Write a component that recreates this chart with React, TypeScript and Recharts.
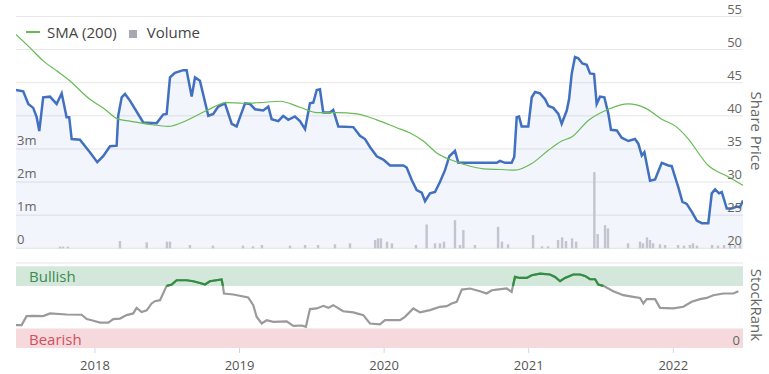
import React from "react";
import { ComposedChart, Area, Line, Bar, XAxis, YAxis, CartesianGrid, ReferenceArea, ReferenceLine } from "recharts";

// time axis is in decimal years
const START = 2017.454;
const END = 2022.482;
const yearTicks = [2018, 2019, 2020, 2021, 2022];
const priceTicks = [20, 25, 30, 35, 40, 45, 50, 55];
const volumeTicks = [0, 1, 2, 3];

const priceDates = [
  2017.454, 2017.504, 2017.539, 2017.573, 2017.597, 2017.615, 2017.642, 2017.689, 2017.735, 2017.77,
  2017.804, 2017.822, 2017.839, 2017.896, 2017.965, 2018.016, 2018.057, 2018.104, 2018.15, 2018.161,
  2018.185, 2018.208, 2018.242, 2018.334, 2018.427, 2018.472, 2018.496, 2018.519, 2018.553, 2018.611,
  2018.634, 2018.669, 2018.692, 2018.726, 2018.784, 2018.818, 2018.853, 2018.899, 2018.946, 2018.98,
  2019.003, 2019.038, 2019.072, 2019.107, 2019.164, 2019.199, 2019.222, 2019.268, 2019.302, 2019.337,
  2019.383, 2019.418, 2019.453, 2019.487, 2019.51, 2019.534, 2019.556, 2019.579, 2019.626, 2019.648,
  2019.683, 2019.787, 2019.833, 2019.868, 2019.902, 2019.949, 2019.994, 2020.041, 2020.133, 2020.156,
  2020.191, 2020.225, 2020.26, 2020.283, 2020.317, 2020.352, 2020.386, 2020.421, 2020.451, 2020.49,
  2020.513, 2020.686, 2020.779, 2020.801, 2020.836, 2020.882, 2020.9, 2020.917, 2020.933, 2020.951,
  2020.997, 2021.021, 2021.044, 2021.078, 2021.113, 2021.136, 2021.17, 2021.205, 2021.228, 2021.263,
  2021.279, 2021.297, 2021.32, 2021.343, 2021.371, 2021.401, 2021.424, 2021.452, 2021.47, 2021.493,
  2021.523, 2021.551, 2021.569, 2021.609, 2021.643, 2021.689, 2021.735, 2021.758, 2021.782, 2021.8,
  2021.839, 2021.874, 2021.92, 2021.966, 2021.989, 2022.012, 2022.035, 2022.063, 2022.093, 2022.128,
  2022.162, 2022.197, 2022.242, 2022.266, 2022.289, 2022.316, 2022.335, 2022.37, 2022.404, 2022.439,
  2022.461, 2022.482,
];
const priceValues = [
  43.9, 43.7, 41.8, 41.2, 39.8, 37.7, 42.8, 42.9, 41.8, 43.4,
  39.8, 39.8, 36.5, 36.4, 34.5, 33.0, 33.9, 35.4, 35.5, 40.0,
  42.8, 43.3, 42.3, 39.0, 38.9, 40.2, 40.3, 45.8, 46.5, 46.9,
  46.9, 42.9, 45.8, 45.3, 40.0, 40.3, 41.4, 41.9, 38.8, 38.4,
  39.8, 41.9, 41.8, 41.0, 40.8, 41.4, 39.5, 39.2, 40.0, 39.4,
  39.9, 39.2, 38.0, 41.9, 42.0, 43.9, 44.0, 40.5, 40.5, 40.9,
  38.4, 38.3, 37.0, 36.5, 35.3, 33.9, 33.4, 32.5, 32.5, 32.2,
  30.3, 28.8, 28.4, 27.1, 28.3, 28.5, 30.0, 31.8, 33.9, 34.7,
  32.9, 32.9, 32.9, 33.2, 32.9, 32.9, 33.8, 39.8, 39.9, 38.4,
  38.4, 42.8, 43.6, 43.4, 42.5, 41.5, 41.2, 40.3, 38.8, 40.8,
  42.5, 46.3, 48.9, 48.7, 47.9, 47.7, 46.4, 46.3, 41.8, 42.9,
  42.8, 40.3, 37.9, 37.8, 36.7, 36.2, 36.5, 35.8, 34.0, 34.5,
  30.2, 30.4, 32.9, 32.5, 32.4, 30.8, 29.2, 27.0, 26.7, 25.5,
  24.2, 23.8, 23.8, 28.3, 28.9, 28.3, 28.5, 26.0, 26.0, 26.3,
  26.2, 27.2,
];

const smaDates = [
  2017.454, 2017.55, 2017.642, 2017.735, 2017.815, 2017.965, 2018.057, 2018.161, 2018.242, 2018.38,
  2018.507, 2018.634, 2018.773, 2018.911, 2019.026, 2019.141, 2019.28, 2019.418, 2019.534, 2019.672,
  2019.81, 2019.949, 2020.087, 2020.179, 2020.271, 2020.364, 2020.456, 2020.548, 2020.686, 2020.801,
  2020.905, 2021.021, 2021.136, 2021.228, 2021.297, 2021.412, 2021.551, 2021.689, 2021.804, 2021.92,
  2022.024, 2022.093, 2022.242, 2022.38, 2022.482,
];
const smaValues = [
  52.3, 50.3, 48.3, 46.8, 45.5, 42.5, 41.2, 39.5, 39.2, 38.7,
  38.4, 39.3, 40.8, 42.0, 41.9, 42.0, 42.2, 41.3, 40.5, 40.5,
  40.3, 39.4, 38.2, 37.4, 36.2, 34.4, 33.4, 32.7, 32.0, 31.9,
  31.8, 32.8, 34.8, 36.2, 36.8, 39.3, 41.0, 41.8, 41.2, 39.5,
  38.3, 36.8, 32.5, 30.8, 29.5,
];

// volume in millions of shares
const volumeDates = [
  2017.758, 2017.779, 2017.813, 2018.173, 2018.358, 2018.498, 2018.519, 2018.657, 2018.816, 2019.024,
  2019.093, 2019.155, 2019.349, 2019.453, 2019.543, 2019.66, 2019.764, 2019.938, 2019.958, 2019.978,
  2020.02, 2020.054, 2020.22, 2020.294, 2020.352, 2020.386, 2020.414, 2020.49, 2020.525, 2020.548,
  2020.628, 2020.788, 2020.815, 2020.857, 2021.03, 2021.092, 2021.134, 2021.203, 2021.231, 2021.258,
  2021.3, 2021.328, 2021.454, 2021.477, 2021.528, 2021.548, 2021.687, 2021.77, 2021.79, 2021.818,
  2021.839, 2021.86, 2021.908, 2021.943, 2022.033, 2022.074, 2022.115, 2022.136, 2022.164, 2022.268,
  2022.309, 2022.351, 2022.392, 2022.427, 2022.461,
];
const volumeValues = [
  0.05, 0.05, 0.05, 0.22, 0.18, 0.2, 0.2, 0.1, 0.08, 0.08,
  0.06, 0.1, 0.08, 0.1, 0.1, 0.12, 0.15, 0.25, 0.3, 0.3,
  0.2, 0.15, 0.1, 0.72, 0.15, 0.15, 0.2, 0.85, 0.1, 0.55,
  0.1, 0.65, 0.2, 0.12, 0.4, 0.06, 0.06, 0.25, 0.33, 0.22,
  0.3, 0.2, 2.3, 0.43, 0.7, 0.6, 0.15, 0.2, 0.15, 0.33,
  0.25, 0.15, 0.12, 0.1, 0.1, 0.08, 0.1, 0.15, 0.08, 0.1,
  0.08, 0.1, 0.12, 0.1, 0.12,
];

const rankDates = [
  2017.454, 2017.493, 2017.527, 2017.573, 2017.642, 2017.689, 2017.804, 2017.908, 2017.943, 2017.977,
  2018.035, 2018.092, 2018.127, 2018.173, 2018.219, 2018.265, 2018.288, 2018.323, 2018.358, 2018.392,
  2018.415, 2018.45, 2018.496, 2018.531, 2018.565, 2018.634, 2018.68, 2018.726, 2018.761, 2018.795,
  2018.876, 2018.885, 2018.892, 2018.957, 2019.06, 2019.095, 2019.118, 2019.153, 2019.188, 2019.233,
  2019.326, 2019.372, 2019.43, 2019.459, 2019.487, 2019.534, 2019.58, 2019.614, 2019.648, 2019.717,
  2019.787, 2019.856, 2019.902, 2019.971, 2020.006, 2020.11, 2020.144, 2020.202, 2020.248, 2020.317,
  2020.386, 2020.433, 2020.467, 2020.502, 2020.537, 2020.594, 2020.663, 2020.709, 2020.744, 2020.779,
  2020.848, 2020.882, 2020.891, 2020.905, 2020.94, 2020.986, 2021.021, 2021.078, 2021.147, 2021.182,
  2021.217, 2021.251, 2021.308, 2021.355, 2021.389, 2021.424, 2021.459, 2021.481, 2021.516, 2021.585,
  2021.654, 2021.723, 2021.77, 2021.793, 2021.816, 2021.874, 2021.908, 2022.0, 2022.069, 2022.127,
  2022.185, 2022.231, 2022.277, 2022.346, 2022.415, 2022.45,
];
const rankValues = [
  28, 28, 39, 39.4, 39, 42.3, 41, 40.7, 35.4, 34,
  31, 31, 35.4, 36, 40.2, 42.3, 49, 44, 46, 54.5,
  57.3, 58.5, 76, 77.7, 82.9, 82.9, 81.7, 79.6, 77.7, 81.7,
  83.8, 76, 66.7, 65.5, 61.8, 52.4, 38.2, 30, 34, 32,
  32.5, 27, 27.5, 26, 47.6, 48.4, 51.6, 49.1, 52.4, 45,
  43.5, 40.2, 30, 29, 34, 34, 38.2, 48.4, 43.5, 46.3,
  50.4, 51.2, 54.5, 56.5, 71.5, 72.8, 69.5, 66.7, 70.7, 71.5,
  72.8, 68.7, 76, 87, 85.7, 85.7, 89, 91, 89.9, 87,
  81.7, 85.7, 89.9, 89.9, 88.2, 84.1, 84.1, 77.7, 76, 69.5,
  64.6, 62.6, 61.3, 54.5, 59.8, 59.8, 49.1, 48.4, 50.4, 56.5,
  59.8, 61.3, 64.6, 66.7, 66.7, 69.5,
];

const BULL_MIN = 76;
const BEAR_MAX = 24;

const W = 769;
const PLOT_LEFT = 16;
const PLOT_RIGHT = 743;

function buildPriceData() {
  const rows = new Map<number, any>();
  const put = (t: number, key: string, v: number) => {
    const row = rows.get(t) ?? { t };
    row[key] = v;
    rows.set(t, row);
  };
  priceDates.forEach((t, i) => put(t, "price", priceValues[i]));
  smaDates.forEach((t, i) => put(t, "sma", smaValues[i]));
  volumeDates.forEach((t, i) => put(t, "volume", volumeValues[i]));
  return [...rows.values()].sort((a, b) => a.t - b.t);
}

const priceData = buildPriceData();
const rankData = rankDates.map((t, i) => ({
  t,
  rank: rankValues[i],
  bull: rankValues[i] >= BULL_MIN ? rankValues[i] : null,
}));

const PriceTick = ({ y, payload }: any) => (
  <text x={PLOT_RIGHT - 1} y={y - 3} textAnchor="end" fill="#666" fontSize={13}>
    {payload.value}
  </text>
);

const VolumeTick = ({ y, payload }: any) => (
  <text x={PLOT_LEFT + 1} y={y - 4} textAnchor="start" fill="#666" fontSize={13}>
    {payload.value === 0 ? "0" : `${payload.value}m`}
  </text>
);

const RankTick = ({ y, payload }: any) => (
  <text x={PLOT_RIGHT - 3} y={y - 3} textAnchor="end" fill="#666" fontSize={13}>
    {payload.value}
  </text>
);

// the band size on a dense number axis is tiny, so draw each volume bar at a fixed width
const VolumeBar = ({ x, y, width, height }: any) => {
  if (height == null || height <= 0) return null;
  return <rect x={x + width / 2 - 1.2} y={y} width={2.4} height={height} fill="#c2c4ce" />;
};

const axisTitle = (top: number): React.CSSProperties => ({
  position: "absolute",
  left: 757,
  top,
  transform: "translate(-50%, -50%) rotate(90deg)",
  whiteSpace: "nowrap",
  fontSize: 15,
  color: "#666",
});

export default function App() {
  return (
    <div style={{ position: "absolute", left: 0, top: 0, width: W, height: 374, background: "#fff", fontFamily: "'Open Sans', sans-serif" }}>
      <div style={{ position: "absolute", left: 0, top: 0 }}>
        <ComposedChart width={W} height={252} data={priceData} margin={{ top: 16.5, right: W - PLOT_RIGHT, left: PLOT_LEFT, bottom: 3.7 }}>
          <CartesianGrid yAxisId="price" horizontal vertical={false} stroke="#e6e6e6" />
          <XAxis dataKey="t" type="number" domain={[START, END]} allowDataOverflow hide />
          <YAxis yAxisId="price" orientation="right" mirror domain={[20, 55]} ticks={priceTicks} interval={0} axisLine={false} tickLine={false} tick={<PriceTick />} />
          <YAxis yAxisId="vol" orientation="left" mirror domain={[0, 7]} ticks={volumeTicks} interval={0} axisLine={false} tickLine={false} tick={<VolumeTick />} />
          <Area yAxisId="price" type="linear" dataKey="price" stroke="#4270c0" strokeWidth={2.5} fill="#4270c0" fillOpacity={0.065} connectNulls dot={false} isAnimationActive={false} />
          <Bar yAxisId="vol" dataKey="volume" fill="#c2c4ce" shape={<VolumeBar />} isAnimationActive={false} />
          <Line yAxisId="price" type="monotone" dataKey="sma" stroke="#66bb55" strokeWidth={1.2} connectNulls dot={false} isAnimationActive={false} />
        </ComposedChart>
      </div>

      <div style={{ position: "absolute", left: 17, top: 22, display: "flex", alignItems: "center", fontSize: 15, color: "#444", whiteSpace: "nowrap" }}>
        <span style={{ display: "inline-block", width: 14, height: 2, background: "#66bb55", marginLeft: 9, marginRight: 7 }} />
        <span>SMA (200)</span>
        <span style={{ display: "inline-block", width: 8, height: 8, background: "#a5a7b2", marginLeft: 12, marginRight: 10, marginTop: 3 }} />
        <span>Volume</span>
      </div>

      <div style={{ position: "absolute", left: 0, top: 255 }}>
        <ComposedChart width={W} height={119} data={rankData} margin={{ top: 8, right: W - PLOT_RIGHT, left: PLOT_LEFT, bottom: 0 }}>
          <XAxis
            dataKey="t"
            type="number"
            domain={[START, END]}
            allowDataOverflow
            ticks={yearTicks}
            interval={0}
            height={26}
            axisLine={false}
            tickLine={{ stroke: "#ccd6eb" }}
            tickSize={5}
            tickMargin={8}
            tick={{ fill: "#555", fontSize: 13 }}
          />
          <YAxis yAxisId="rank" orientation="right" mirror domain={[0, 104]} ticks={[0]} interval={0} axisLine={false} tickLine={false} tick={<RankTick />} />
          <ReferenceLine yAxisId="rank" y={104} stroke="#e6e6e6" />
          <ReferenceArea
            yAxisId="rank"
            y1={BULL_MIN}
            y2={100}
            fill="#d3e8db"
            fillOpacity={1}
            stroke="none"
            label={{ value: "Bullish", position: "insideLeft", offset: 13, fill: "#3d8a52", fontSize: 15, dy: 1 }}
          />
          <ReferenceArea
            yAxisId="rank"
            y1={0}
            y2={BEAR_MAX}
            fill="#f6d9dc"
            fillOpacity={1}
            stroke="none"
            label={{ value: "Bearish", position: "insideLeft", offset: 13, fill: "#d2505c", fontSize: 15, dy: 1 }}
          />
          <Line yAxisId="rank" type="linear" dataKey="rank" stroke="#9a9a9a" strokeWidth={2.2} dot={false} isAnimationActive={false} />
          <Line yAxisId="rank" type="linear" dataKey="bull" stroke="#2e8f3c" strokeWidth={2.2} dot={false} isAnimationActive={false} />
        </ComposedChart>
      </div>

      <div style={axisTitle(131)}>Share Price</div>
      <div style={axisTitle(305)}>StockRank</div>
    </div>
  );
}
